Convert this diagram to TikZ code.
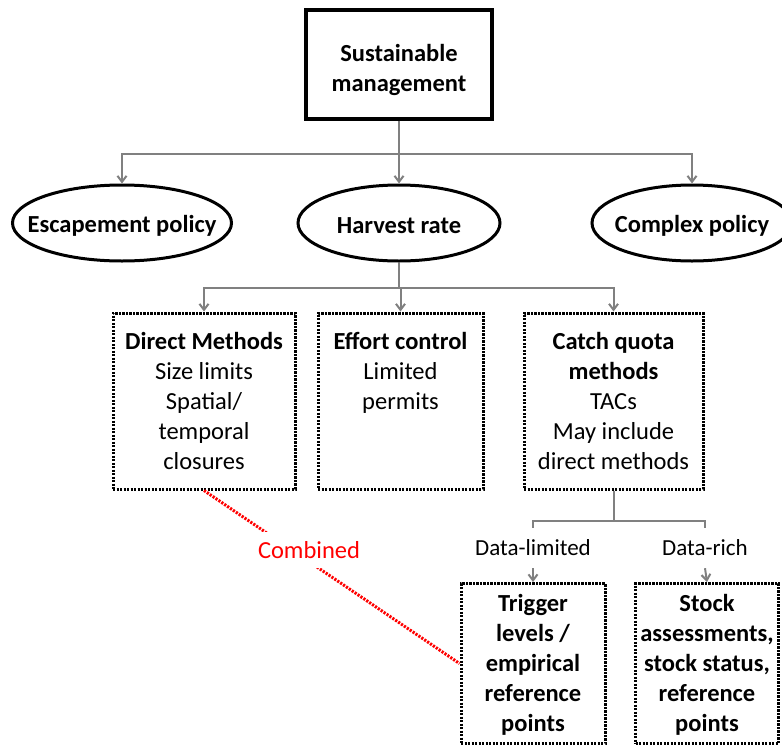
\documentclass[tikz,border=0pt]{standalone}
\usepackage{fontspec}
\setmainfont{Carlito}
\usetikzlibrary{positioning,shapes.geometric,arrows.meta}

\begin{document}
\begin{tikzpicture}[x=1pt,y=-1pt]
\tikzstyle{every node}=[font=\fontsize{24.5}{30}\selectfont]
\tikzstyle{every label}=[yshift=-3pt,font=\fontsize{24.5}{30}\selectfont\bfseries]
\tikzstyle{topbox}=[draw,line width=3.2pt,minimum width=186pt,minimum height=109pt]
\tikzstyle{policy}=[draw,ellipse,line width=3pt,minimum height=76pt,inner sep=0pt]
\tikzstyle{method}=[draw,line width=3pt,dash pattern=on 2.2pt off 1.3pt,minimum height=176pt]
\tikzstyle{methodtext}=[align=center,inner sep=0pt]
\tikzstyle{approach}=[method,minimum width=144pt,minimum height=160pt,inner sep=0pt,text depth=1pt,align=center,font=\fontsize{24.5}{30}\selectfont\bfseries]
\tikzstyle{datatext}=[minimum height=40pt,font=\fontsize{23}{26}\selectfont]
\tikzstyle{link}=[draw=gray,line width=2pt,-{Straight Barb[length=6pt,width=9pt]}]
\tikzstyle{branch}=[draw=gray,line width=2pt]
\tikzstyle{combline}=[draw=red,line width=3pt,dash pattern=on 2.2pt off 1.3pt]
\useasboundingbox (0,0) rectangle (782,745);
% ========= policies
\node (top) [topbox, label={[align=center,yshift=-2pt]center:Sustainable\\management}] at (399,64.5) {};
\node (esc) [policy, minimum width=219pt, label=center:{Escapement policy}] at (122,223) {};
\node (harv) [policy, minimum width=202pt, label=center:{Harvest rate}] at (399,223) {};
\node (cplx) [policy, minimum width=200pt, label=center:{Complex policy}] at (692,223) {};
% ========= methods
\node (direct) [method, minimum width=182pt] at (204,401) {};
\node (effort) [method, minimum width=165pt] at (400.5,401) {};
\node (catch) [method, minimum width=179pt] at (613.5,401) {};
\node (directtxt) [methodtext, below=21pt of direct.north] {\textbf{Direct Methods}\\Size limits\\Spatial/\\temporal\\closures};
\node (efforttxt) [methodtext, below=21pt of effort.north] {\textbf{Effort control}\\Limited\\permits};
\node (catchtxt) [methodtext, below=21pt of catch.north] {\textbf{Catch quota}\\\textbf{methods}\\TACs\\May include\\direct methods};
% ========= data
\node (datalim) [datatext] at (533,548) {Data-limited};
\node (datarich) [datatext] at (705,548) {Data-rich};
\node (trigger) [approach] at (533,663.5) {Trigger\\levels /\\empirical\\reference\\points};
\node (stock) [approach, minimum width=143pt] at (707,663.5) {Stock\\assessments,\\stock status,\\reference\\points};
% ====== connections
\coordinate [below=33pt of top.south] (split1);
\draw [link] (top.south) -- (split1) -| (esc.north);
\draw [link] (split1) -- (harv.north);
\draw [link] (split1) -| (cplx.north);

\coordinate [below=25pt of harv.south] (split2);
\draw [link] (harv.south) -- (split2) -| (direct.north);
\draw [link] (split2) -| (effort.north);
\draw [link] (split2) -| (catch.north);

\coordinate [below=30pt of catch.south] (split3);
\draw [branch] (catch.south) -- (split3) -| (datalim.north);
\draw [branch] (split3) -| (datarich.north);
\draw [link] (datalim) -- (trigger);
\draw [link] (datarich.south) -- (stock.north);
%% ===== combined
\draw [combline] (direct.south) -- (trigger.west);
\node (comb) [fill=white, text=red, inner ysep=9pt] at (309,550) {Combined};
\end{tikzpicture}
\end{document}
